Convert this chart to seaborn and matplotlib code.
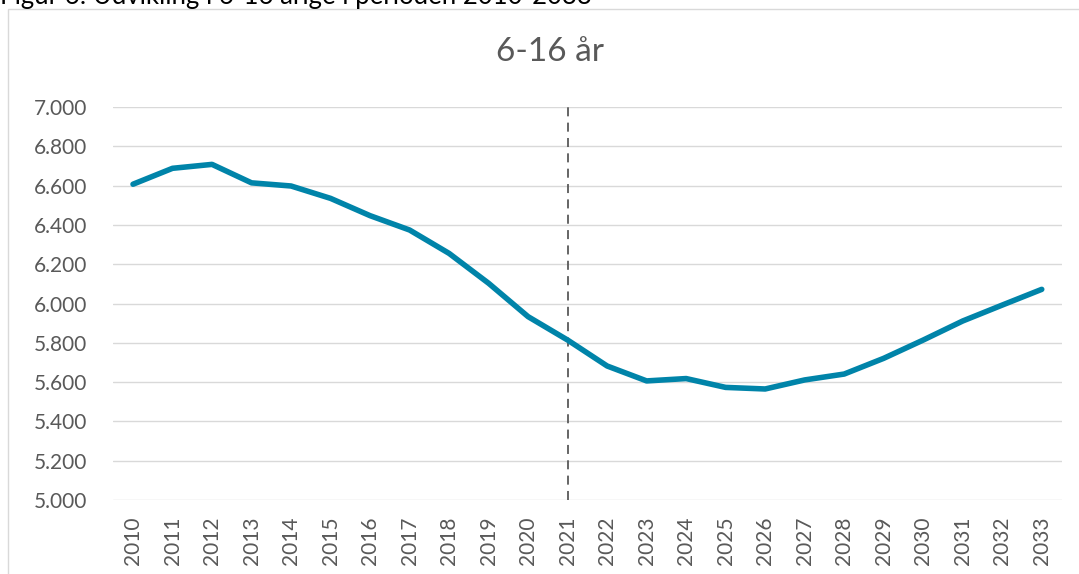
import matplotlib
matplotlib.use("Agg")
import matplotlib.pyplot as plt
import seaborn as sns
import pandas as pd
from matplotlib.patches import Rectangle

years = list(range(2010, 2034))
values = [6607, 6688, 6708, 6614, 6598, 6535, 6447, 6374, 6255, 6103, 5933, 5814,
          5682, 5606, 5618, 5573, 5565, 5611, 5641, 5721, 5814, 5911, 5992, 6072]
title = "6-16 år"
caption = "Figur 6: Udvikling i 6-16 årige i perioden 2010-2033"
marker_year = 2021
yticks = [5000, 5200, 5400, 5600, 5800, 6000, 6200, 6400, 6600, 6800, 7000]
ytick_labels = ["5.000", "5.200", "5.400", "5.600", "5.800", "6.000",
                "6.200", "6.400", "6.600", "6.800", "7.000"]

df = pd.DataFrame({"year": years, "value": values})

sns.set_theme(style="white")
plt.rcParams["font.family"] = ["Lato", "DejaVu Sans"]

W, H = 1079, 574
fig = plt.figure(figsize=(W / 100, H / 100), dpi=100)
ax = fig.add_axes([113.25 / W, 1 - 500 / H, (1061.5 - 113.25) / W, (500 - 107) / H])

# outer chart frame
fig.patches.append(Rectangle((8 / W, -0.1), 1.2, 1.1 - 9 / H, transform=fig.transFigure,
                             fill=False, edgecolor="#d9d9d9", linewidth=1.0, zorder=0))

for t in yticks:
    ax.axhline(t, color="#d9d9d9", linewidth=1.0, zorder=1)

ax.axvline(marker_year, color="#595959", linewidth=1.3, linestyle=(0, (5, 3.5)), zorder=2)

sns.lineplot(data=df, x="year", y="value", ax=ax, color="#0084A9", linewidth=4.0, zorder=3)

ax.set_xlim(years[0] - 0.5, years[-1] + 0.5)
ax.set_ylim(5000, 7000)
ax.set_xticks(years)
ax.set_xticklabels([str(y) for y in years], rotation=90, fontsize=15, color="#595959")
ax.set_yticks(yticks)
ax.set_yticklabels(ytick_labels, fontsize=15, color="#595959")
ax.tick_params(axis="y", length=0, pad=19)
ax.tick_params(axis="x", length=0, pad=12)
ax.set_xlabel("")
ax.set_ylabel("")
for s in ax.spines.values():
    s.set_visible(False)

fig.text(550 / W, 1 - 52 / H, title, ha="center", va="center", fontsize=24, color="#595959")
fig.text(0 / W, 1 - 4 / H, caption, ha="left", va="baseline", fontsize=18.5, color="#000000")

fig.savefig("out.png", dpi=100)
